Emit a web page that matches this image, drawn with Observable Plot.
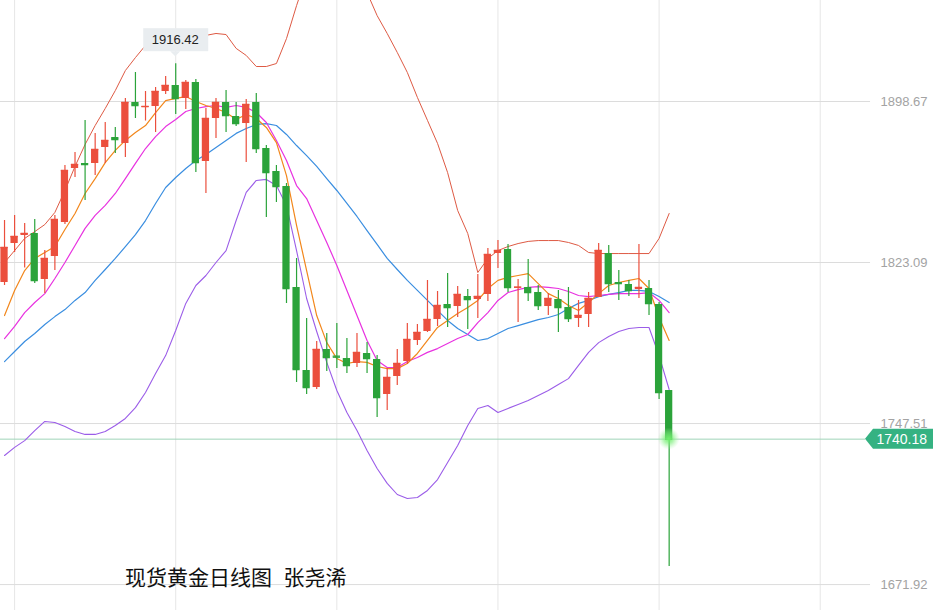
<!DOCTYPE html>
<html><head><meta charset="utf-8">
<script src="https://cdn.jsdelivr.net/npm/d3@7"></script>
<script src="https://cdn.jsdelivr.net/npm/@observablehq/plot@0.6"></script>
<style>
body{margin:0;background:#fff;}
#wrap{position:relative;width:933px;height:610px;overflow:hidden;}
#caption{position:absolute;left:125px;top:566px;font-size:21px;line-height:21px;word-spacing:1px;font-family:"Noto Sans CJK SC",sans-serif;color:#111;white-space:pre;}
</style></head><body><div id="wrap"><div id="caption">现货黄金日线图  张尧浠</div></div>
<script>
const open=[1813.71,1832.02,1835.77,1836.71,1815.12,1825.91,1841.87,1867.22,1869.57,1869.57,1877.08,1881.77,1878.96,1898.20,1895.85,1896.32,1903.36,1906.18,1900.08,1907.59,1870.51,1890.69,1898.20,1891.63,1888.34,1898.20,1876.61,1865.81,1858.77,1811.36,1772.40,1764.42,1782.26,1779.2,1778.03,1775.69,1780.38,1777.57,1761.14,1769.59,1776.63,1786.48,1790.71,1796.34,1803.38,1802.44,1807.14,1805.73,1808.08,1827.32,1829.20,1811.2,1811.36,1809.02,1802.44,1805.73,1801.97,1796.81,1798.69,1806.67,1827.32,1813.71,1812.77,1810.42,1810.89,1803.38,1763.01];
const high=[1842.81,1845.16,1841.40,1843.28,1828.73,1845.16,1868.63,1874.73,1889.75,1883.65,1888.81,1886.47,1900.08,1912.28,1903.36,1905.24,1910.41,1916.42,1908.53,1909.00,1895.38,1900.08,1903.83,1898.20,1899.61,1902.43,1878.02,1868.63,1860.18,1824.97,1796.81,1786.01,1789.77,1794.46,1787.42,1789.77,1785.55,1779.4,1773.34,1782.26,1794.46,1793.99,1814.65,1809.48,1817.93,1811.83,1810.42,1817.46,1829.67,1833.42,1831.55,1815.12,1824.51,1812.30,1808.55,1809.95,1811.36,1805.26,1809.02,1832.02,1831.08,1819.34,1814.65,1831.55,1814.65,1804.3,1763.01];
const low=[1812.30,1827.79,1820.5,1813.24,1808.55,1819.34,1840.93,1863.00,1852.20,1863.93,1869.57,1874.26,1872.38,1890.69,1889.5,1884.12,1901.96,1892.57,1894.92,1865.34,1855.49,1881.30,1884.12,1886.94,1870.04,1874.26,1844.22,1851.26,1803.85,1766.77,1761.14,1763.5,1771.93,1773.34,1770.99,1773.81,1770.99,1750.34,1753.63,1765.36,1775.2,1784.14,1790.24,1793.06,1792.59,1797.28,1791.65,1796.81,1804.79,1820.28,1809.02,1794.93,1804.79,1800.57,1798.22,1790.24,1794.93,1792.59,1792.59,1806.67,1809.02,1805.26,1807.14,1806.20,1798.22,1758.79,1680.40];
const close=[1830.14,1835.30,1836.71,1814.65,1824.97,1843.28,1866.28,1869.10,1869.10,1876.14,1880.36,1880.83,1898.20,1896.79,1896.32,1903.36,1906.18,1900.08,1907.59,1870.04,1890.69,1898.20,1892.10,1888.34,1897.26,1876.61,1865.34,1858.77,1810.89,1772.87,1764.42,1782.26,1778.50,1778.7,1774.75,1780.85,1778.03,1759.73,1769.12,1775.69,1786.95,1790.24,1796.34,1802.91,1801.97,1808.08,1805.73,1807.14,1826.85,1828.73,1811.36,1811.5,1809.02,1802.91,1806.20,1801.97,1796.81,1798.22,1806.20,1828.73,1813.24,1813.24,1809.95,1811.36,1803.85,1762.08,1740.18];
const ma5=[1798.2,1810.0,1819.3,1825.0,1827.8,1830.6,1838.6,1846.1,1855.5,1862.5,1870.0,1875.7,1880.4,1884.1,1887.4,1893.5,1899.1,1900.1,1901.0,1898.7,1896.8,1895.4,1893.5,1890.2,1892.6,1890.7,1886.5,1879.4,1863.9,1840.5,1819.3,1798.2,1785.5,1778.0,1775.7,1776.6,1776.2,1774.3,1773.3,1773.3,1775.7,1780.4,1786.5,1792.6,1795.9,1799.2,1802.0,1805.3,1810.9,1814.7,1816.1,1817.0,1817.9,1813.2,1808.5,1806.2,1802.9,1800.6,1804.3,1808.5,1812.3,1813.7,1814.7,1815.6,1810.9,1797.3,1786.5];
const ma10=[1787.4,1793.1,1799.6,1804.3,1808.5,1815.6,1823.1,1831.1,1839.1,1845.2,1849.9,1855.5,1862.5,1869.6,1876.6,1882.2,1886.9,1890.2,1894.0,1895.4,1896.3,1896.8,1895.9,1896.8,1895.9,1893.5,1888.8,1880.4,1871.0,1859.2,1853.1,1842.8,1832.5,1821.7,1810.0,1798.2,1786.5,1777.1,1773.8,1773.8,1776.6,1778.5,1780.9,1782.7,1785.1,1787.4,1789.3,1794.9,1799.6,1805.3,1809.0,1810.4,1811.4,1811.8,1811.4,1810.9,1809.5,1807.6,1807.1,1807.6,1808.1,1808.5,1808.5,1808.5,1809.0,1805.3,1799.6];
const ma20=[1776.6,1781.3,1786.0,1789.8,1794.0,1797.7,1801.0,1805.3,1809.0,1814.7,1819.8,1825.0,1830.6,1836.2,1842.8,1850.8,1858.3,1863.0,1867.2,1871.0,1873.8,1877.1,1880.4,1883.7,1886.0,1887.9,1888.3,1887.4,1883.2,1878.0,1873.3,1868.2,1862.5,1856.9,1850.8,1844.7,1838.1,1831.6,1825.0,1819.8,1814.7,1810.0,1805.3,1800.6,1795.9,1792.1,1789.3,1786.5,1787.4,1789.8,1792.1,1793.5,1794.9,1796.3,1797.3,1798.7,1801.5,1803.9,1805.3,1807.1,1808.1,1809.0,1810.0,1810.0,1809.5,1807.1,1804.3];
const upper=[1823.1,1828.7,1834.4,1837.6,1840.9,1846.6,1856.9,1868.2,1878.5,1887.4,1895.4,1903.8,1913.2,1919.3,1925.0,1928.7,1931.1,1931.1,1929.7,1929.2,1929.7,1930.6,1930.1,1923.6,1920.3,1915.1,1915.1,1916.5,1928.2,1943.7,1957.8,1967.2,1971.9,1971.9,1967.2,1960.2,1949.8,1939.0,1930.6,1921.7,1912.3,1900.6,1889.8,1879.0,1865.3,1847.5,1836.7,1818.4,1825.0,1828.7,1830.6,1832.0,1833.0,1833.4,1833.4,1833.4,1832.5,1831.1,1827.8,1827.3,1827.3,1827.3,1827.3,1827.3,1827.3,1834.4,1846.1];
const lower=[1732.5,1736.3,1739.5,1744.2,1748.5,1748.0,1746.1,1743.8,1742.4,1742.4,1743.8,1746.6,1749.9,1755.0,1762.1,1771.0,1779.4,1791.2,1803.9,1812.3,1817.0,1823.1,1828.7,1842.8,1856.0,1861.6,1862.1,1859.2,1849.9,1828.7,1806.2,1790.7,1776.2,1763.0,1752.7,1744.2,1734.9,1726.4,1719.4,1714.2,1712.3,1712.8,1716.1,1721.2,1729.2,1737.2,1746.6,1754.6,1756.0,1752.7,1754.6,1756.4,1758.3,1760.7,1763.0,1765.8,1768.6,1774.8,1780.9,1785.5,1788.4,1790.7,1792.1,1792.6,1792.6,1779.4,1763.5];
const yTicks=[1898.67,1823.09,1747.51,1671.92];
const xGridIdx=[1,17,33,49,65,81];
const lastPrice=1740.18;
const maxHigh=1916.42;
const title="现货黄金日线图  张尧浠";

const W=933,H=610;
const RED="#eb4f3d",GREEN="#2ba33a";
const n=open.length;
const candles=d3.range(n).map(i=>({i,open:open[i],high:high[i],low:low[i],close:close[i]}));
const col=d=>d.close>=d.open?RED:GREEN;
const series=(arr)=>arr.map((v,i)=>({i,v}));
const xDomain=[-0.4,92.25];
const yDomain=[1659.75,1946.08];
const gridEnd=86.0, priceEnd=85.5;

const chart=Plot.plot({
  width:W,height:H,margin:0,
  style:{fontFamily:"'Liberation Sans',Arial,sans-serif",background:"transparent"},
  x:{domain:xDomain,axis:null},
  y:{domain:yDomain,axis:null},
  marks:[
    Plot.ruleX(xGridIdx,{stroke:"#e6e6e6",strokeWidth:1}),
    Plot.ruleY(yTicks,{x1:xDomain[0],x2:gridEnd,stroke:"#dcdcdc",strokeWidth:1}),
    Plot.ruleY([lastPrice],{x1:xDomain[0],x2:priceEnd,stroke:"#9fd4b8",strokeWidth:1}),
    Plot.text(yTicks,{y:d=>d,text:d=>d.toFixed(2),frameAnchor:"right",dx:-6,textAnchor:"end",fill:"#a3a3a3",fontSize:13}),
    Plot.line(series(upper),{x:"i",y:"v",stroke:"#de5a44",strokeWidth:1,clip:true}),
    Plot.line(series(lower),{x:"i",y:"v",stroke:"#9b5de8",strokeWidth:1.1,clip:true}),
    Plot.line(series(ma20),{x:"i",y:"v",stroke:"#3a8ee0",strokeWidth:1.2}),
    Plot.line(series(ma10),{x:"i",y:"v",stroke:"#e832e0",strokeWidth:1.2}),
    Plot.line(series(ma5),{x:"i",y:"v",stroke:"#f2871c",strokeWidth:1.2}),
    Plot.ruleX(candles,{x:"i",y1:"low",y2:"high",stroke:col,strokeWidth:1.2}),
    Plot.rect(candles,{x1:d=>d.i-0.36,x2:d=>d.i+0.36,y1:d=>Math.min(d.open,d.close),y2:d=>Math.max(d.open,d.close),fill:col}),
    Plot.ruleY(candles,{y:"close",x1:d=>d.i-0.36,x2:d=>d.i+0.36,stroke:col,strokeWidth:1.5})
  ]
});
document.getElementById("wrap").prepend(chart);

const xS=chart.scale("x"), yS=chart.scale("y");
const svg=d3.select(chart);
const defs=svg.append("defs");
const g=defs.append("radialGradient").attr("id","glow");
g.append("stop").attr("offset","0%").attr("stop-color","#6ef06a").attr("stop-opacity",1);
g.append("stop").attr("offset","45%").attr("stop-color","#7cf07a").attr("stop-opacity",0.6);
g.append("stop").attr("offset","100%").attr("stop-color","#a8f5a6").attr("stop-opacity",0);
const lx=xS.apply(n-1), ly=yS.apply(lastPrice);
svg.append("circle").attr("cx",lx).attr("cy",ly).attr("r",11).attr("fill","url(#glow)");
const tx=xS.apply(priceEnd);
svg.append("path").attr("d",`M${tx},${ly} L${tx+8},${ly-10} L${W},${ly-10} L${W},${ly+10} L${tx+8},${ly+10} Z`).attr("fill","#35b282");
svg.append("text").attr("x",W-6).attr("y",ly).attr("dy","0.36em").attr("text-anchor","end")
  .attr("fill","#fff").attr("font-size",14).attr("font-family","'Liberation Sans',Arial,sans-serif").text(lastPrice.toFixed(2));
const mi=d3.maxIndex(high);
const mx=xS.apply(mi), my=yS.apply(maxHigh);
svg.append("rect").attr("x",mx-32).attr("y",my-35).attr("width",65).attr("height",23).attr("fill","#e9edf0");
svg.append("path").attr("d",`M${mx-5},${my-12} L${mx+5},${my-12} L${mx},${my-7} Z`).attr("fill","#e9edf0");
svg.append("text").attr("x",mx).attr("y",my-23.5).attr("dy","0.36em").attr("text-anchor","middle")
  .attr("fill","#222").attr("font-size",13).attr("font-family","'Liberation Sans',Arial,sans-serif").text(maxHigh.toFixed(2));
document.getElementById("caption").textContent=title;
</script></body></html>
